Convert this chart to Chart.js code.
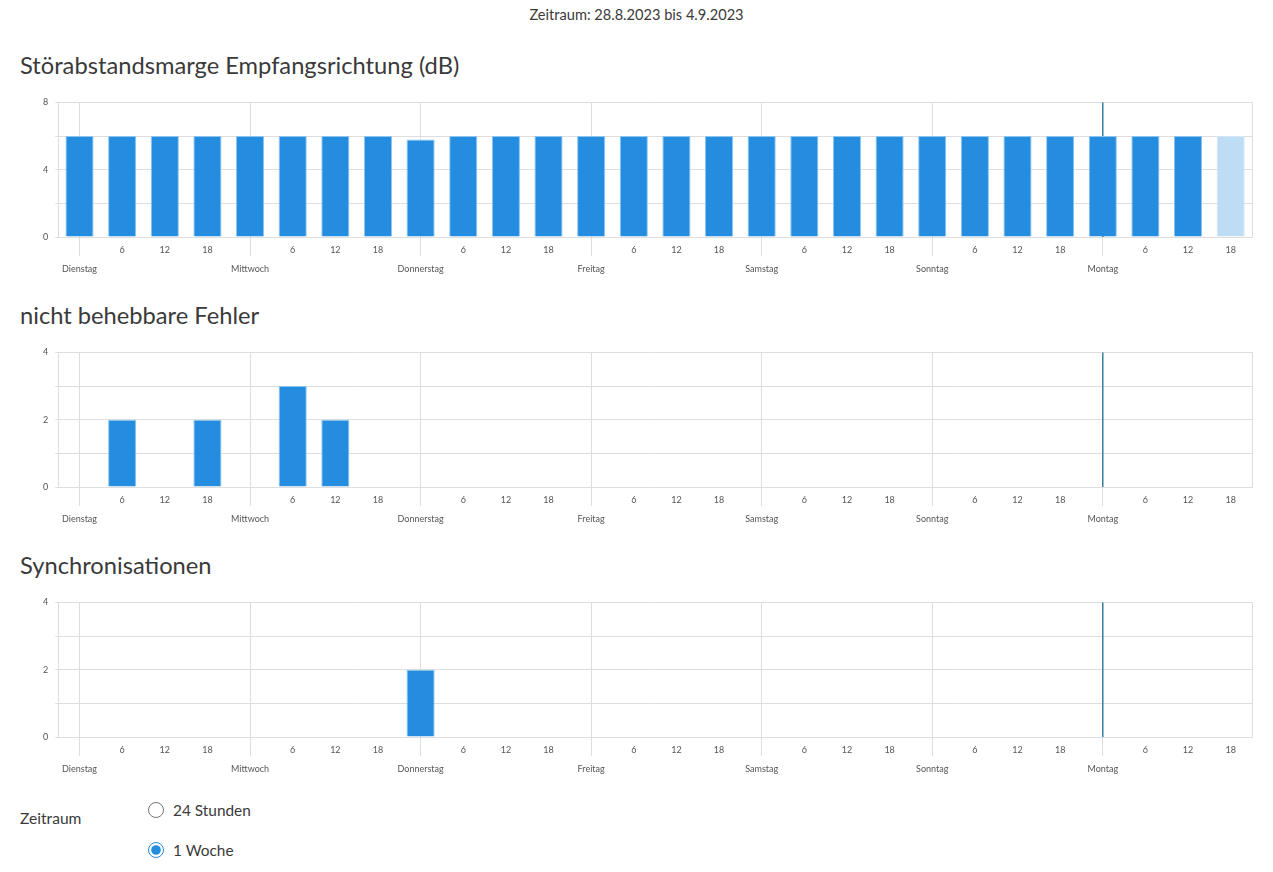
<!DOCTYPE html>
<html>
<head>
<meta charset="utf-8">
<script src="https://cdn.jsdelivr.net/npm/chart.js@4"></script>
<style>
body { margin: 0; font-family: Lato, sans-serif; color: #3a3a3a; background: #fff; width: 1273px; height: 872px; position: relative; overflow: hidden; }
.top { position: absolute; top: 6px; left: 0; width: 1273px; text-align: center; font-size: 14.6px; }
h2 { position: absolute; left: 20px; margin: 0; font-weight: normal; font-size: 23.7px; line-height: 28px; }
.box { position: absolute; left: 0; width: 1273px; height: 200px; }
.lbl { position: absolute; left: 20px; top: 809px; font-size: 15.6px; }
.radio { position: absolute; left: 148px; font-size: 15.4px; display: flex; align-items: center; }
.radio input { width: 16px; height: 16px; margin: 0 9px 0 0; accent-color: #258de0; }
</style>
</head>
<body>
<div class="top">Zeitraum: 28.8.2023 bis 4.9.2023</div>

<h2 style="top:51px">Störabstandsmarge Empfangsrichtung (dB)</h2>
<div class="box" style="top:90px"><canvas id="snr"></canvas></div>

<h2 style="top:301px">nicht behebbare Fehler</h2>
<div class="box" style="top:340px"><canvas id="fec"></canvas></div>

<h2 style="top:551px">Synchronisationen</h2>
<div class="box" style="top:590px"><canvas id="sync"></canvas></div>

<div class="lbl">Zeitraum</div>
<label class="radio" style="top:801px"><input type="radio" name="zr">24 Stunden</label>
<label class="radio" style="top:841px"><input type="radio" name="zr" checked>1 Woche</label>

<script>
const days = ['Dienstag', 'Mittwoch', 'Donnerstag', 'Freitag', 'Samstag', 'Sonntag', 'Montag'];
const hours = [0, 6, 12, 18];

// one value every 6 hours, Tuesday 0:00 to Monday 18:00
const snrValues  = [6, 6, 6, 6,  6, 6, 6, 6,  5.8, 6, 6, 6,  6, 6, 6, 6,  6, 6, 6, 6,  6, 6, 6, 6,  6, 6, 6, 6];
const fecValues  = [0, 2, 0, 2,  0, 3, 2, 0,  0, 0, 0, 0,  0, 0, 0, 0,  0, 0, 0, 0,  0, 0, 0, 0,  0, 0, 0, 0];
const syncValues = [0, 0, 0, 0,  0, 0, 0, 0,  2, 0, 0, 0,  0, 0, 0, 0,  0, 0, 0, 0,  0, 0, 0, 0,  0, 0, 0, 0];

const markerIndex = 24;   // Montag 0:00
const openIndex = 27;     // current, not finished period

const labels = days.flatMap(d => hours.map(h => d + ' ' + h));
const hourLabels = days.flatMap(d => hours.map(h => h === 0 ? '' : String(h)));
const dayLabels = days.flatMap(d => hours.map(h => h === 0 ? d : ''));

const gridColor = '#dedede';

// vertical marker line
const markerLine = {
    id: 'markerLine',
    beforeDatasetsDraw(chart) {
        const x = chart.scales.x.getPixelForValue(markerIndex);
        const a = chart.chartArea;
        const c = chart.ctx;
        c.save();
        c.strokeStyle = '#3a7f9e';
        c.lineWidth = 1.5;
        c.beginPath();
        c.moveTo(x, a.top);
        c.lineTo(x, a.bottom);
        c.stroke();
        c.restore();
    }
};

function makeChart(id, values, max, step, labelEvery) {
    const ctx = document.getElementById(id);
    return new Chart(ctx, {
        type: 'bar',
        data: {
            labels: labels,
            datasets: [{
                data: values,
                backgroundColor: values.map((v, i) => i === openIndex ? '#bedcf3' : '#258de0'),
                borderColor: values.map((v, i) => i === openIndex ? '#d3e8f7' : '#8cc6f0'),
                borderWidth: 1,
                barPercentage: 0.66,
                categoryPercentage: 1
            }]
        },
        options: {
            responsive: true,
            maintainAspectRatio: false,
            animation: false,
            layout: { padding: { top: 7.6, bottom: 11, left: 36, right: 21 } },
            plugins: { legend: { display: false }, tooltip: { enabled: false } },
            scales: {
                // hours, with long tick marks at the day boundaries
                x: {
                    offset: true,
                    weight: 0,
                    grid: {
                        offset: false,
                        tickLength: 19,
                        color: c => c.index % 4 === 0 ? gridColor : 'rgba(0,0,0,0)'
                    },
                    border: { color: gridColor },
                    ticks: {
                        autoSkip: false,
                        maxRotation: 0,
                        padding: -11.4,
                        color: '#555',
                        font: { family: 'Lato', size: 9 },
                        callback: (v, i) => hourLabels[i]
                    },
                    afterFit: s => { s.height = 19; }
                },
                // day names below
                x2: {
                    type: 'category',
                    position: 'bottom',
                    offset: true,
                    weight: 1,
                    grid: { display: false, drawTicks: false, tickLength: 0 },
                    border: { display: false },
                    ticks: {
                        autoSkip: false,
                        maxRotation: 0,
                        padding: 7.6,
                        color: '#555',
                        font: { family: 'Lato', size: 9 },
                        callback: (v, i) => dayLabels[i]
                    },
                    afterFit: s => { s.height = 23; }
                },
                y: {
                    min: 0,
                    max: max,
                    grid: { color: gridColor, tickLength: 3 },
                    border: { color: gridColor },
                    ticks: {
                        stepSize: step,
                        padding: 7,
                        color: '#555',
                        font: { family: 'Lato', size: 9 },
                        callback: v => v % labelEvery === 0 ? v : ''
                    }
                },
                yr: {
                    position: 'right',
                    min: 0,
                    max: max,
                    grid: { display: false },
                    border: { color: gridColor },
                    ticks: { display: false },
                    afterFit: s => { s.width = 0; }
                }
            }
        },
        plugins: [markerLine]
    });
}

makeChart('snr', snrValues, 8, 2, 4);
makeChart('fec', fecValues, 4, 1, 2);
makeChart('sync', syncValues, 4, 1, 2);
</script>
</body>
</html>
